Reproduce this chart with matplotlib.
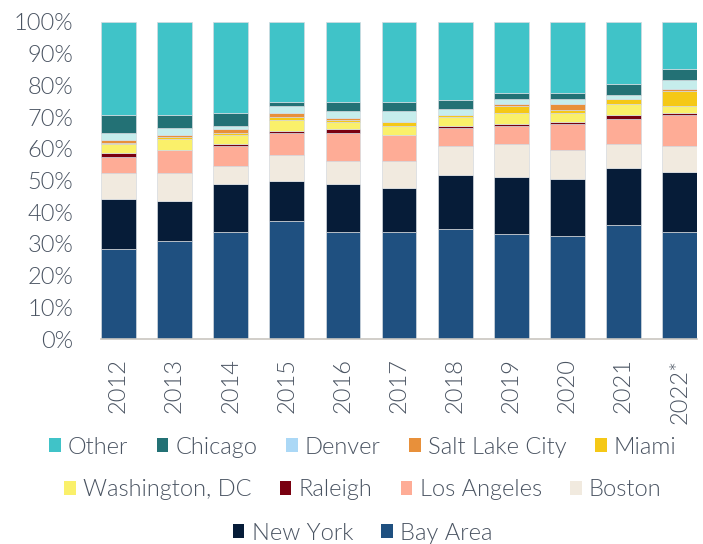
import matplotlib
matplotlib.use("Agg")
import matplotlib.pyplot as plt
from matplotlib.patches import Patch
import numpy as np

plt.rcParams['font.family'] = ['Lato', 'DejaVu Sans']

years = ['2012', '2013', '2014', '2015', '2016', '2017', '2018', '2019', '2020', '2021', '2022*']

# cumulative tops (%), bottom series first
series = ['Bay Area', 'New York', 'Boston', 'Los Angeles', 'Raleigh', 'Washington, DC',
          'Miami', 'Salt Lake City', 'Denver', 'Chicago', 'Other']
bay_area = [28.3, 31.0, 33.8, 37.2, 33.8, 33.8, 34.6, 33.1, 32.4, 35.9, 33.8]
new_york = [44.2, 43.4, 49.0, 49.7, 49.0, 47.6, 51.8, 51.2, 50.5, 53.9, 52.6]
boston = [52.5, 52.5, 54.6, 58.1, 56.0, 56.0, 60.9, 61.6, 59.5, 61.6, 60.9]
los_angeles = [57.4, 59.6, 61.0, 65.1, 65.1, 64.4, 66.5, 67.2, 67.9, 69.3, 70.8]
raleigh = [58.8, 59.6, 61.6, 65.7, 66.3, 64.4, 67.1, 67.9, 68.6, 70.7, 71.4]
washington = [61.6, 63.1, 64.4, 69.1, 68.5, 67.2, 69.9, 71.3, 71.4, 74.2, 73.5]
miami = [61.9, 63.7, 65.1, 69.9, 69.2, 68.6, 70.6, 73.5, 72.1, 75.6, 78.3]
salt_lake = [62.9, 64.4, 66.3, 71.3, 69.8, 68.6, 70.8, 74.1, 74.1, 75.6, 79.0]
denver = [65.1, 66.5, 67.2, 73.4, 72.0, 72.0, 72.7, 75.6, 75.6, 77.0, 81.8]
chicago = [70.7, 70.7, 71.4, 74.8, 74.8, 74.8, 75.5, 77.6, 77.6, 80.4, 85.3]
other = [100] * 11

tops = [bay_area, new_york, boston, los_angeles, raleigh, washington,
        miami, salt_lake, denver, chicago, other]

colors = {
    'Other': '#40C3C8',
    'Chicago': '#237175',
    'Denver': '#C6EDEC',
    'Salt Lake City': '#E8903A',
    'Miami': '#F5C816',
    'Washington, DC': '#FAF06A',
    'Raleigh': '#790010',
    'Los Angeles': '#FEAC96',
    'Boston': '#F1EADF',
    'New York': '#061C38',
    'Bay Area': '#1F5080',
}
legend_colors = dict(colors)
legend_colors['Denver'] = '#ABD8F6'

legend_rows = [
    ['Other', 'Chicago', 'Denver', 'Salt Lake City', 'Miami'],
    ['Washington, DC', 'Raleigh', 'Los Angeles', 'Boston'],
    ['New York', 'Bay Area'],
]

text_color = '#4A5462'
fsize = 17

fig = plt.figure(figsize=(7.03, 5.44), dpi=100)
ax = fig.add_axes([0.1437, 0.3768, 0.8478, 0.5828])

x = np.arange(len(years))
prev = np.zeros(len(years))
for name, top in zip(series, tops):
    top = np.array(top, dtype=float)
    ax.bar(x, top - prev, bottom=prev, width=0.62, color=colors[name],
           edgecolor='#D5DADF', linewidth=0.5)
    prev = top

ax.set_xlim(-0.31, len(years) - 1 + 0.31)
ax.set_ylim(0, 100)
ax.set_yticks(np.arange(0, 101, 10))
ax.set_yticklabels([f'{v}%' for v in range(0, 101, 10)])
ax.set_xticks(x)
ax.set_xticklabels(years, rotation=90)
ax.tick_params(length=0, labelsize=fsize, colors=text_color)
ax.tick_params(axis='y', pad=20)
ax.tick_params(axis='x', pad=14)
for lab in ax.get_xticklabels() + ax.get_yticklabels():
    lab.set_fontweight(300)
for s in ['top', 'right', 'left']:
    ax.spines[s].set_visible(False)
ax.spines['bottom'].set_color('#C9C6C0')
ax.spines['bottom'].set_linewidth(1.2)

row_y = [1 - 447 / 544, 1 - 490 / 544, 1 - 533 / 544]
for row, yy in zip(legend_rows, row_y):
    handles = [Patch(facecolor=legend_colors[n], edgecolor='none') for n in row]
    leg = fig.legend(handles, row, loc='center', bbox_to_anchor=(0.516, yy), ncol=len(row),
                     frameon=False, fontsize=fsize, handlelength=0.5, handleheight=0.5,
                     handletextpad=0.3, columnspacing=1.2, borderpad=0)
    for t in leg.get_texts():
        t.set_color(text_color)
        t.set_fontweight(300)

fig.savefig('out.png', dpi=100)
